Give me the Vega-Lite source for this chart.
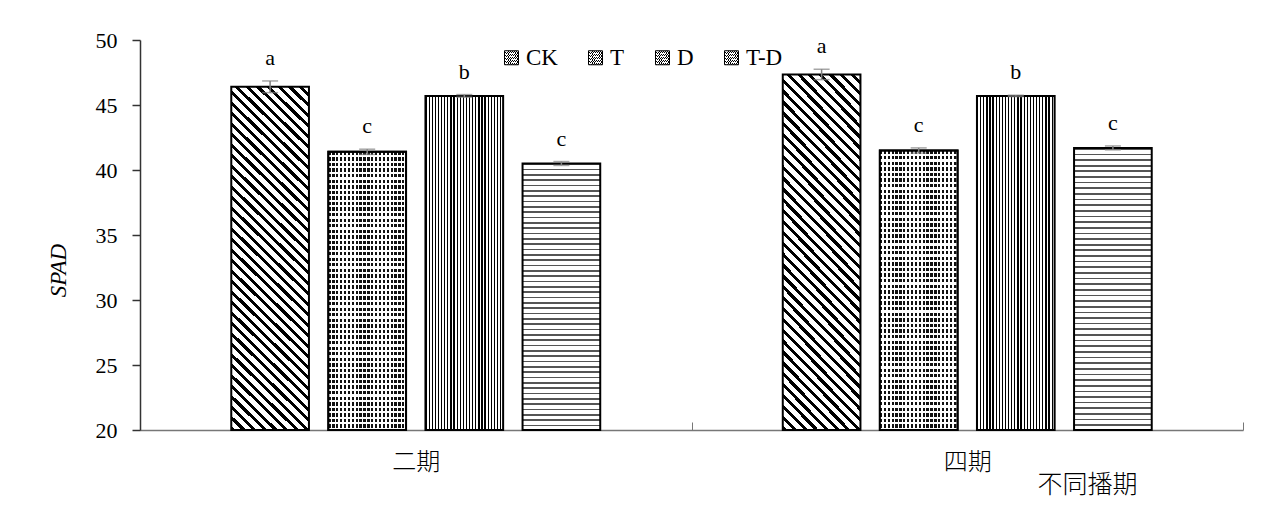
{
  "$schema": "https://vega.github.io/schema/vega-lite/v6.json",
  "autosize": "none",
  "width": 1103,
  "height": 390,
  "padding": {"left": 140, "top": 40, "right": 27, "bottom": 100},
  "background": "#ffffff",
  "config": {"view": {"stroke": null}},
  "data": {"values": [
    {"period": "二期", "trt": "CK", "mean": 46.4, "lo": 45.95, "hi": 46.85, "sig": "a"},
    {"period": "二期", "trt": "T", "mean": 41.4, "lo": 41.2, "hi": 41.6, "sig": "c"},
    {"period": "二期", "trt": "D", "mean": 45.7, "lo": 45.6, "hi": 45.8, "sig": "b"},
    {"period": "二期", "trt": "T-D", "mean": 40.5, "lo": 40.35, "hi": 40.65, "sig": "c"},
    {"period": "四期", "trt": "CK", "mean": 47.35, "lo": 46.95, "hi": 47.75, "sig": "a"},
    {"period": "四期", "trt": "T", "mean": 41.5, "lo": 41.3, "hi": 41.7, "sig": "c"},
    {"period": "四期", "trt": "D", "mean": 45.7, "lo": 45.65, "hi": 45.75, "sig": "b"},
    {"period": "四期", "trt": "T-D", "mean": 41.7, "lo": 41.55, "hi": 41.85, "sig": "c"}
  ]},
  "encoding": {
    "x": {"field": "period", "type": "nominal",
      "scale": {"domain": ["二期", "四期"], "paddingInner": 0, "paddingOuter": 0},
      "axis": {"labelFont": "Noto Sans CJK SC", "labelFontSize": 24, "labelFontWeight": 300, "labelColor": "#000", "labelAngle": 0,
        "tickSize": -8, "tickBand": "extent", "domainColor": "#777", "tickColor": "#777", "domainWidth": 1.5,
        "labelPadding": 28, "title": "不同播期", "titleFont": "Noto Sans CJK SC", "titleFontSize": 25,
        "titleFontWeight": 300, "titleColor": "#000", "titleX": 947, "titleY": 54, "titleBaseline": "middle"}},
    "xOffset": {"field": "trt", "type": "nominal",
      "scale": {"domain": ["CK", "T", "D", "T-D"], "paddingInner": 0.2, "paddingOuter": 0.94}}
  },
  "layer": [
    {
      "transform": [{"filter": "datum.trt == 'CK'"}],
      "mark": {"type": "bar", "strokeWidth": 2, "fill": {"gradient": "linear", "x1": 0, "y1": 1, "x2": 0.26, "y2": -0.165, "stops": [
              {"offset": 0, "color": "#000"}, {"offset": 0.01, "color": "#000"}, {"offset": 0.01, "color": "#fff"}, {"offset": 0.025, "color": "#fff"},
              {"offset": 0.025, "color": "#000"}, {"offset": 0.035, "color": "#000"}, {"offset": 0.035, "color": "#fff"}, {"offset": 0.05, "color": "#fff"},
              {"offset": 0.05, "color": "#000"}, {"offset": 0.06, "color": "#000"}, {"offset": 0.06, "color": "#fff"}, {"offset": 0.075, "color": "#fff"},
              {"offset": 0.075, "color": "#000"}, {"offset": 0.085, "color": "#000"}, {"offset": 0.085, "color": "#fff"}, {"offset": 0.1, "color": "#fff"},
              {"offset": 0.1, "color": "#000"}, {"offset": 0.11, "color": "#000"}, {"offset": 0.11, "color": "#fff"}, {"offset": 0.125, "color": "#fff"},
              {"offset": 0.125, "color": "#000"}, {"offset": 0.135, "color": "#000"}, {"offset": 0.135, "color": "#fff"}, {"offset": 0.15, "color": "#fff"},
              {"offset": 0.15, "color": "#000"}, {"offset": 0.16, "color": "#000"}, {"offset": 0.16, "color": "#fff"}, {"offset": 0.175, "color": "#fff"},
              {"offset": 0.175, "color": "#000"}, {"offset": 0.185, "color": "#000"}, {"offset": 0.185, "color": "#fff"}, {"offset": 0.2, "color": "#fff"},
              {"offset": 0.2, "color": "#000"}, {"offset": 0.21, "color": "#000"}, {"offset": 0.21, "color": "#fff"}, {"offset": 0.225, "color": "#fff"},
              {"offset": 0.225, "color": "#000"}, {"offset": 0.235, "color": "#000"}, {"offset": 0.235, "color": "#fff"}, {"offset": 0.25, "color": "#fff"},
              {"offset": 0.25, "color": "#000"}, {"offset": 0.26, "color": "#000"}, {"offset": 0.26, "color": "#fff"}, {"offset": 0.275, "color": "#fff"},
              {"offset": 0.275, "color": "#000"}, {"offset": 0.285, "color": "#000"}, {"offset": 0.285, "color": "#fff"}, {"offset": 0.3, "color": "#fff"},
              {"offset": 0.3, "color": "#000"}, {"offset": 0.31, "color": "#000"}, {"offset": 0.31, "color": "#fff"}, {"offset": 0.325, "color": "#fff"},
              {"offset": 0.325, "color": "#000"}, {"offset": 0.335, "color": "#000"}, {"offset": 0.335, "color": "#fff"}, {"offset": 0.35, "color": "#fff"},
              {"offset": 0.35, "color": "#000"}, {"offset": 0.36, "color": "#000"}, {"offset": 0.36, "color": "#fff"}, {"offset": 0.375, "color": "#fff"},
              {"offset": 0.375, "color": "#000"}, {"offset": 0.385, "color": "#000"}, {"offset": 0.385, "color": "#fff"}, {"offset": 0.4, "color": "#fff"},
              {"offset": 0.4, "color": "#000"}, {"offset": 0.41, "color": "#000"}, {"offset": 0.41, "color": "#fff"}, {"offset": 0.425, "color": "#fff"},
              {"offset": 0.425, "color": "#000"}, {"offset": 0.435, "color": "#000"}, {"offset": 0.435, "color": "#fff"}, {"offset": 0.45, "color": "#fff"},
              {"offset": 0.45, "color": "#000"}, {"offset": 0.46, "color": "#000"}, {"offset": 0.46, "color": "#fff"}, {"offset": 0.475, "color": "#fff"},
              {"offset": 0.475, "color": "#000"}, {"offset": 0.485, "color": "#000"}, {"offset": 0.485, "color": "#fff"}, {"offset": 0.5, "color": "#fff"},
              {"offset": 0.5, "color": "#000"}, {"offset": 0.51, "color": "#000"}, {"offset": 0.51, "color": "#fff"}, {"offset": 0.525, "color": "#fff"},
              {"offset": 0.525, "color": "#000"}, {"offset": 0.535, "color": "#000"}, {"offset": 0.535, "color": "#fff"}, {"offset": 0.55, "color": "#fff"},
              {"offset": 0.55, "color": "#000"}, {"offset": 0.56, "color": "#000"}, {"offset": 0.56, "color": "#fff"}, {"offset": 0.575, "color": "#fff"},
              {"offset": 0.575, "color": "#000"}, {"offset": 0.585, "color": "#000"}, {"offset": 0.585, "color": "#fff"}, {"offset": 0.6, "color": "#fff"},
              {"offset": 0.6, "color": "#000"}, {"offset": 0.61, "color": "#000"}, {"offset": 0.61, "color": "#fff"}, {"offset": 0.625, "color": "#fff"},
              {"offset": 0.625, "color": "#000"}, {"offset": 0.635, "color": "#000"}, {"offset": 0.635, "color": "#fff"}, {"offset": 0.65, "color": "#fff"},
              {"offset": 0.65, "color": "#000"}, {"offset": 0.66, "color": "#000"}, {"offset": 0.66, "color": "#fff"}, {"offset": 0.675, "color": "#fff"},
              {"offset": 0.675, "color": "#000"}, {"offset": 0.685, "color": "#000"}, {"offset": 0.685, "color": "#fff"}, {"offset": 0.7, "color": "#fff"},
              {"offset": 0.7, "color": "#000"}, {"offset": 0.71, "color": "#000"}, {"offset": 0.71, "color": "#fff"}, {"offset": 0.725, "color": "#fff"},
              {"offset": 0.725, "color": "#000"}, {"offset": 0.735, "color": "#000"}, {"offset": 0.735, "color": "#fff"}, {"offset": 0.75, "color": "#fff"},
              {"offset": 0.75, "color": "#000"}, {"offset": 0.76, "color": "#000"}, {"offset": 0.76, "color": "#fff"}, {"offset": 0.775, "color": "#fff"},
              {"offset": 0.775, "color": "#000"}, {"offset": 0.785, "color": "#000"}, {"offset": 0.785, "color": "#fff"}, {"offset": 0.8, "color": "#fff"},
              {"offset": 0.8, "color": "#000"}, {"offset": 0.81, "color": "#000"}, {"offset": 0.81, "color": "#fff"}, {"offset": 0.825, "color": "#fff"},
              {"offset": 0.825, "color": "#000"}, {"offset": 0.835, "color": "#000"}, {"offset": 0.835, "color": "#fff"}, {"offset": 0.85, "color": "#fff"},
              {"offset": 0.85, "color": "#000"}, {"offset": 0.86, "color": "#000"}, {"offset": 0.86, "color": "#fff"}, {"offset": 0.875, "color": "#fff"},
              {"offset": 0.875, "color": "#000"}, {"offset": 0.885, "color": "#000"}, {"offset": 0.885, "color": "#fff"}, {"offset": 0.9, "color": "#fff"},
              {"offset": 0.9, "color": "#000"}, {"offset": 0.91, "color": "#000"}, {"offset": 0.91, "color": "#fff"}, {"offset": 0.925, "color": "#fff"},
              {"offset": 0.925, "color": "#000"}, {"offset": 0.935, "color": "#000"}, {"offset": 0.935, "color": "#fff"}, {"offset": 0.95, "color": "#fff"},
              {"offset": 0.95, "color": "#000"}, {"offset": 0.96, "color": "#000"}, {"offset": 0.96, "color": "#fff"}, {"offset": 0.975, "color": "#fff"},
              {"offset": 0.975, "color": "#000"}, {"offset": 0.985, "color": "#000"}, {"offset": 0.985, "color": "#fff"}, {"offset": 1, "color": "#fff"}
            ]}},
      "encoding": {
        "y": {"field": "mean", "type": "quantitative",
          "scale": {"domain": [20, 50], "zero": false, "nice": false},
          "axis": {"values": [20, 25, 30, 35, 40, 45, 50], "grid": false, "tickSize": 8, "tickColor": "#333",
            "domainColor": "#333", "domainWidth": 1.5, "tickWidth": 1.5, "labelFont": "Liberation Serif",
            "labelFontSize": 22, "labelColor": "#000", "labelPadding": 15, "title": "SPAD",
            "titleFont": "Liberation Serif", "titleFontStyle": "italic", "titleFontWeight": "normal",
            "titleFontSize": 23, "titleColor": "#000", "titlePadding": 25, "titleY": 230}},
        "y2": {"datum": 20},
        "stroke": {"field": "trt", "type": "nominal",
          "scale": {"domain": ["CK", "T", "D", "T-D"], "range": ["#000", "#000", "#000", "#000"]},
          "legend": {"orient": "none", "legendX": 360, "legendY": 6, "direction": "horizontal", "columns": 4,
            "title": null, "symbolType": "square", "symbolSize": 196, "symbolStrokeWidth": 1,
            "labelFont": "Liberation Serif", "labelFontSize": 23, "labelColor": "#000", "labelOffset": 3, "columnPadding": 26,
            "encode": {"symbols": {"update": {"fill": {"signal": "datum.value == 'CK' ? '#2b2b2b' : datum.value == 'T' ? '#3c3c3c' : datum.value == 'D' ? '#4a4a4a' : '#444444'"}, "fillOpacity": {"value": 1}}}}}}
      }
    },
    {
      "transform": [{"filter": "datum.trt == 'T'"}],
      "mark": {"type": "bar", "stroke": "#000", "strokeWidth": 2, "fill": {"gradient": "linear", "x1": 0, "y1": 0, "x2": 1, "y2": 0, "stops": [
              {"offset": 0, "color": "#111"}, {"offset": 0.03, "color": "#111"}, {"offset": 0.03, "color": "#fff"}, {"offset": 0.05, "color": "#fff"},
              {"offset": 0.05, "color": "#111"}, {"offset": 0.08, "color": "#111"}, {"offset": 0.08, "color": "#fff"}, {"offset": 0.1, "color": "#fff"},
              {"offset": 0.1, "color": "#111"}, {"offset": 0.13, "color": "#111"}, {"offset": 0.13, "color": "#fff"}, {"offset": 0.15, "color": "#fff"},
              {"offset": 0.15, "color": "#111"}, {"offset": 0.18, "color": "#111"}, {"offset": 0.18, "color": "#fff"}, {"offset": 0.2, "color": "#fff"},
              {"offset": 0.2, "color": "#111"}, {"offset": 0.23, "color": "#111"}, {"offset": 0.23, "color": "#fff"}, {"offset": 0.25, "color": "#fff"},
              {"offset": 0.25, "color": "#111"}, {"offset": 0.28, "color": "#111"}, {"offset": 0.28, "color": "#fff"}, {"offset": 0.3, "color": "#fff"},
              {"offset": 0.3, "color": "#111"}, {"offset": 0.33, "color": "#111"}, {"offset": 0.33, "color": "#fff"}, {"offset": 0.35, "color": "#fff"},
              {"offset": 0.35, "color": "#111"}, {"offset": 0.38, "color": "#111"}, {"offset": 0.38, "color": "#fff"}, {"offset": 0.4, "color": "#fff"},
              {"offset": 0.4, "color": "#111"}, {"offset": 0.43, "color": "#111"}, {"offset": 0.43, "color": "#fff"}, {"offset": 0.45, "color": "#fff"},
              {"offset": 0.45, "color": "#111"}, {"offset": 0.48, "color": "#111"}, {"offset": 0.48, "color": "#fff"}, {"offset": 0.5, "color": "#fff"},
              {"offset": 0.5, "color": "#111"}, {"offset": 0.53, "color": "#111"}, {"offset": 0.53, "color": "#fff"}, {"offset": 0.55, "color": "#fff"},
              {"offset": 0.55, "color": "#111"}, {"offset": 0.58, "color": "#111"}, {"offset": 0.58, "color": "#fff"}, {"offset": 0.6, "color": "#fff"},
              {"offset": 0.6, "color": "#111"}, {"offset": 0.63, "color": "#111"}, {"offset": 0.63, "color": "#fff"}, {"offset": 0.65, "color": "#fff"},
              {"offset": 0.65, "color": "#111"}, {"offset": 0.68, "color": "#111"}, {"offset": 0.68, "color": "#fff"}, {"offset": 0.7, "color": "#fff"},
              {"offset": 0.7, "color": "#111"}, {"offset": 0.73, "color": "#111"}, {"offset": 0.73, "color": "#fff"}, {"offset": 0.75, "color": "#fff"},
              {"offset": 0.75, "color": "#111"}, {"offset": 0.78, "color": "#111"}, {"offset": 0.78, "color": "#fff"}, {"offset": 0.8, "color": "#fff"},
              {"offset": 0.8, "color": "#111"}, {"offset": 0.83, "color": "#111"}, {"offset": 0.83, "color": "#fff"}, {"offset": 0.85, "color": "#fff"},
              {"offset": 0.85, "color": "#111"}, {"offset": 0.88, "color": "#111"}, {"offset": 0.88, "color": "#fff"}, {"offset": 0.9, "color": "#fff"},
              {"offset": 0.9, "color": "#111"}, {"offset": 0.93, "color": "#111"}, {"offset": 0.93, "color": "#fff"}, {"offset": 0.95, "color": "#fff"},
              {"offset": 0.95, "color": "#111"}, {"offset": 0.98, "color": "#111"}, {"offset": 0.98, "color": "#fff"}, {"offset": 1, "color": "#fff"}
            ]}},
      "encoding": {"y": {"field": "mean", "type": "quantitative"}, "y2": {"datum": 20}}
    },
    {
      "transform": [{"filter": "datum.trt == 'T'"}],
      "mark": {"type": "bar", "stroke": "#000", "strokeWidth": 2, "fill": {"gradient": "linear", "x1": 0, "y1": 0, "x2": 0, "y2": 1, "stops": [
        {"offset": 0, "color": "rgba(255,255,255,0)"}, {"offset": 0.012, "color": "rgba(255,255,255,0)"}, {"offset": 0.012, "color": "#fff"}, {"offset": 0.02, "color": "#fff"},
        {"offset": 0.02, "color": "rgba(255,255,255,0)"}, {"offset": 0.032, "color": "rgba(255,255,255,0)"}, {"offset": 0.032, "color": "#fff"}, {"offset": 0.04, "color": "#fff"},
        {"offset": 0.04, "color": "rgba(255,255,255,0)"}, {"offset": 0.052, "color": "rgba(255,255,255,0)"}, {"offset": 0.052, "color": "#fff"}, {"offset": 0.06, "color": "#fff"},
        {"offset": 0.06, "color": "rgba(255,255,255,0)"}, {"offset": 0.072, "color": "rgba(255,255,255,0)"}, {"offset": 0.072, "color": "#fff"}, {"offset": 0.08, "color": "#fff"},
        {"offset": 0.08, "color": "rgba(255,255,255,0)"}, {"offset": 0.092, "color": "rgba(255,255,255,0)"}, {"offset": 0.092, "color": "#fff"}, {"offset": 0.1, "color": "#fff"},
        {"offset": 0.1, "color": "rgba(255,255,255,0)"}, {"offset": 0.112, "color": "rgba(255,255,255,0)"}, {"offset": 0.112, "color": "#fff"}, {"offset": 0.12, "color": "#fff"},
        {"offset": 0.12, "color": "rgba(255,255,255,0)"}, {"offset": 0.132, "color": "rgba(255,255,255,0)"}, {"offset": 0.132, "color": "#fff"}, {"offset": 0.14, "color": "#fff"},
        {"offset": 0.14, "color": "rgba(255,255,255,0)"}, {"offset": 0.152, "color": "rgba(255,255,255,0)"}, {"offset": 0.152, "color": "#fff"}, {"offset": 0.16, "color": "#fff"},
        {"offset": 0.16, "color": "rgba(255,255,255,0)"}, {"offset": 0.172, "color": "rgba(255,255,255,0)"}, {"offset": 0.172, "color": "#fff"}, {"offset": 0.18, "color": "#fff"},
        {"offset": 0.18, "color": "rgba(255,255,255,0)"}, {"offset": 0.192, "color": "rgba(255,255,255,0)"}, {"offset": 0.192, "color": "#fff"}, {"offset": 0.2, "color": "#fff"},
        {"offset": 0.2, "color": "rgba(255,255,255,0)"}, {"offset": 0.212, "color": "rgba(255,255,255,0)"}, {"offset": 0.212, "color": "#fff"}, {"offset": 0.22, "color": "#fff"},
        {"offset": 0.22, "color": "rgba(255,255,255,0)"}, {"offset": 0.232, "color": "rgba(255,255,255,0)"}, {"offset": 0.232, "color": "#fff"}, {"offset": 0.24, "color": "#fff"},
        {"offset": 0.24, "color": "rgba(255,255,255,0)"}, {"offset": 0.252, "color": "rgba(255,255,255,0)"}, {"offset": 0.252, "color": "#fff"}, {"offset": 0.26, "color": "#fff"},
        {"offset": 0.26, "color": "rgba(255,255,255,0)"}, {"offset": 0.272, "color": "rgba(255,255,255,0)"}, {"offset": 0.272, "color": "#fff"}, {"offset": 0.28, "color": "#fff"},
        {"offset": 0.28, "color": "rgba(255,255,255,0)"}, {"offset": 0.292, "color": "rgba(255,255,255,0)"}, {"offset": 0.292, "color": "#fff"}, {"offset": 0.3, "color": "#fff"},
        {"offset": 0.3, "color": "rgba(255,255,255,0)"}, {"offset": 0.312, "color": "rgba(255,255,255,0)"}, {"offset": 0.312, "color": "#fff"}, {"offset": 0.32, "color": "#fff"},
        {"offset": 0.32, "color": "rgba(255,255,255,0)"}, {"offset": 0.332, "color": "rgba(255,255,255,0)"}, {"offset": 0.332, "color": "#fff"}, {"offset": 0.34, "color": "#fff"},
        {"offset": 0.34, "color": "rgba(255,255,255,0)"}, {"offset": 0.352, "color": "rgba(255,255,255,0)"}, {"offset": 0.352, "color": "#fff"}, {"offset": 0.36, "color": "#fff"},
        {"offset": 0.36, "color": "rgba(255,255,255,0)"}, {"offset": 0.372, "color": "rgba(255,255,255,0)"}, {"offset": 0.372, "color": "#fff"}, {"offset": 0.38, "color": "#fff"},
        {"offset": 0.38, "color": "rgba(255,255,255,0)"}, {"offset": 0.392, "color": "rgba(255,255,255,0)"}, {"offset": 0.392, "color": "#fff"}, {"offset": 0.4, "color": "#fff"},
        {"offset": 0.4, "color": "rgba(255,255,255,0)"}, {"offset": 0.412, "color": "rgba(255,255,255,0)"}, {"offset": 0.412, "color": "#fff"}, {"offset": 0.42, "color": "#fff"},
        {"offset": 0.42, "color": "rgba(255,255,255,0)"}, {"offset": 0.432, "color": "rgba(255,255,255,0)"}, {"offset": 0.432, "color": "#fff"}, {"offset": 0.44, "color": "#fff"},
        {"offset": 0.44, "color": "rgba(255,255,255,0)"}, {"offset": 0.452, "color": "rgba(255,255,255,0)"}, {"offset": 0.452, "color": "#fff"}, {"offset": 0.46, "color": "#fff"},
        {"offset": 0.46, "color": "rgba(255,255,255,0)"}, {"offset": 0.472, "color": "rgba(255,255,255,0)"}, {"offset": 0.472, "color": "#fff"}, {"offset": 0.48, "color": "#fff"},
        {"offset": 0.48, "color": "rgba(255,255,255,0)"}, {"offset": 0.492, "color": "rgba(255,255,255,0)"}, {"offset": 0.492, "color": "#fff"}, {"offset": 0.5, "color": "#fff"},
        {"offset": 0.5, "color": "rgba(255,255,255,0)"}, {"offset": 0.512, "color": "rgba(255,255,255,0)"}, {"offset": 0.512, "color": "#fff"}, {"offset": 0.52, "color": "#fff"},
        {"offset": 0.52, "color": "rgba(255,255,255,0)"}, {"offset": 0.532, "color": "rgba(255,255,255,0)"}, {"offset": 0.532, "color": "#fff"}, {"offset": 0.54, "color": "#fff"},
        {"offset": 0.54, "color": "rgba(255,255,255,0)"}, {"offset": 0.552, "color": "rgba(255,255,255,0)"}, {"offset": 0.552, "color": "#fff"}, {"offset": 0.56, "color": "#fff"},
        {"offset": 0.56, "color": "rgba(255,255,255,0)"}, {"offset": 0.572, "color": "rgba(255,255,255,0)"}, {"offset": 0.572, "color": "#fff"}, {"offset": 0.58, "color": "#fff"},
        {"offset": 0.58, "color": "rgba(255,255,255,0)"}, {"offset": 0.592, "color": "rgba(255,255,255,0)"}, {"offset": 0.592, "color": "#fff"}, {"offset": 0.6, "color": "#fff"},
        {"offset": 0.6, "color": "rgba(255,255,255,0)"}, {"offset": 0.612, "color": "rgba(255,255,255,0)"}, {"offset": 0.612, "color": "#fff"}, {"offset": 0.62, "color": "#fff"},
        {"offset": 0.62, "color": "rgba(255,255,255,0)"}, {"offset": 0.632, "color": "rgba(255,255,255,0)"}, {"offset": 0.632, "color": "#fff"}, {"offset": 0.64, "color": "#fff"},
        {"offset": 0.64, "color": "rgba(255,255,255,0)"}, {"offset": 0.652, "color": "rgba(255,255,255,0)"}, {"offset": 0.652, "color": "#fff"}, {"offset": 0.66, "color": "#fff"},
        {"offset": 0.66, "color": "rgba(255,255,255,0)"}, {"offset": 0.672, "color": "rgba(255,255,255,0)"}, {"offset": 0.672, "color": "#fff"}, {"offset": 0.68, "color": "#fff"},
        {"offset": 0.68, "color": "rgba(255,255,255,0)"}, {"offset": 0.692, "color": "rgba(255,255,255,0)"}, {"offset": 0.692, "color": "#fff"}, {"offset": 0.7, "color": "#fff"},
        {"offset": 0.7, "color": "rgba(255,255,255,0)"}, {"offset": 0.712, "color": "rgba(255,255,255,0)"}, {"offset": 0.712, "color": "#fff"}, {"offset": 0.72, "color": "#fff"},
        {"offset": 0.72, "color": "rgba(255,255,255,0)"}, {"offset": 0.732, "color": "rgba(255,255,255,0)"}, {"offset": 0.732, "color": "#fff"}, {"offset": 0.74, "color": "#fff"},
        {"offset": 0.74, "color": "rgba(255,255,255,0)"}, {"offset": 0.752, "color": "rgba(255,255,255,0)"}, {"offset": 0.752, "color": "#fff"}, {"offset": 0.76, "color": "#fff"},
        {"offset": 0.76, "color": "rgba(255,255,255,0)"}, {"offset": 0.772, "color": "rgba(255,255,255,0)"}, {"offset": 0.772, "color": "#fff"}, {"offset": 0.78, "color": "#fff"},
        {"offset": 0.78, "color": "rgba(255,255,255,0)"}, {"offset": 0.792, "color": "rgba(255,255,255,0)"}, {"offset": 0.792, "color": "#fff"}, {"offset": 0.8, "color": "#fff"},
        {"offset": 0.8, "color": "rgba(255,255,255,0)"}, {"offset": 0.812, "color": "rgba(255,255,255,0)"}, {"offset": 0.812, "color": "#fff"}, {"offset": 0.82, "color": "#fff"},
        {"offset": 0.82, "color": "rgba(255,255,255,0)"}, {"offset": 0.832, "color": "rgba(255,255,255,0)"}, {"offset": 0.832, "color": "#fff"}, {"offset": 0.84, "color": "#fff"},
        {"offset": 0.84, "color": "rgba(255,255,255,0)"}, {"offset": 0.852, "color": "rgba(255,255,255,0)"}, {"offset": 0.852, "color": "#fff"}, {"offset": 0.86, "color": "#fff"},
        {"offset": 0.86, "color": "rgba(255,255,255,0)"}, {"offset": 0.872, "color": "rgba(255,255,255,0)"}, {"offset": 0.872, "color": "#fff"}, {"offset": 0.88, "color": "#fff"},
        {"offset": 0.88, "color": "rgba(255,255,255,0)"}, {"offset": 0.892, "color": "rgba(255,255,255,0)"}, {"offset": 0.892, "color": "#fff"}, {"offset": 0.9, "color": "#fff"},
        {"offset": 0.9, "color": "rgba(255,255,255,0)"}, {"offset": 0.912, "color": "rgba(255,255,255,0)"}, {"offset": 0.912, "color": "#fff"}, {"offset": 0.92, "color": "#fff"},
        {"offset": 0.92, "color": "rgba(255,255,255,0)"}, {"offset": 0.932, "color": "rgba(255,255,255,0)"}, {"offset": 0.932, "color": "#fff"}, {"offset": 0.94, "color": "#fff"},
        {"offset": 0.94, "color": "rgba(255,255,255,0)"}, {"offset": 0.952, "color": "rgba(255,255,255,0)"}, {"offset": 0.952, "color": "#fff"}, {"offset": 0.96, "color": "#fff"},
        {"offset": 0.96, "color": "rgba(255,255,255,0)"}, {"offset": 0.972, "color": "rgba(255,255,255,0)"}, {"offset": 0.972, "color": "#fff"}, {"offset": 0.98, "color": "#fff"},
        {"offset": 0.98, "color": "rgba(255,255,255,0)"}, {"offset": 0.992, "color": "rgba(255,255,255,0)"}, {"offset": 0.992, "color": "#fff"}, {"offset": 1, "color": "#fff"}
      ]}},
      "encoding": {"y": {"field": "mean", "type": "quantitative"}, "y2": {"datum": 20}}
    },
    {
      "transform": [{"filter": "datum.trt == 'D'"}],
      "mark": {"type": "bar", "stroke": "#000", "strokeWidth": 2, "fill": {"gradient": "linear", "x1": 0, "y1": 0, "x2": 1, "y2": 0, "stops": [
              {"offset": 0, "color": "#000"}, {"offset": 0.016, "color": "#000"}, {"offset": 0.016, "color": "#fff"}, {"offset": 0.04, "color": "#fff"},
              {"offset": 0.04, "color": "#000"}, {"offset": 0.056, "color": "#000"}, {"offset": 0.056, "color": "#fff"}, {"offset": 0.08, "color": "#fff"},
              {"offset": 0.08, "color": "#000"}, {"offset": 0.096, "color": "#000"}, {"offset": 0.096, "color": "#fff"}, {"offset": 0.12, "color": "#fff"},
              {"offset": 0.12, "color": "#000"}, {"offset": 0.136, "color": "#000"}, {"offset": 0.136, "color": "#fff"}, {"offset": 0.16, "color": "#fff"},
              {"offset": 0.16, "color": "#000"}, {"offset": 0.176, "color": "#000"}, {"offset": 0.176, "color": "#fff"}, {"offset": 0.2, "color": "#fff"},
              {"offset": 0.2, "color": "#000"}, {"offset": 0.216, "color": "#000"}, {"offset": 0.216, "color": "#fff"}, {"offset": 0.24, "color": "#fff"},
              {"offset": 0.24, "color": "#000"}, {"offset": 0.256, "color": "#000"}, {"offset": 0.256, "color": "#fff"}, {"offset": 0.28, "color": "#fff"},
              {"offset": 0.28, "color": "#000"}, {"offset": 0.296, "color": "#000"}, {"offset": 0.296, "color": "#fff"}, {"offset": 0.32, "color": "#fff"},
              {"offset": 0.32, "color": "#000"}, {"offset": 0.336, "color": "#000"}, {"offset": 0.336, "color": "#fff"}, {"offset": 0.36, "color": "#fff"},
              {"offset": 0.36, "color": "#000"}, {"offset": 0.376, "color": "#000"}, {"offset": 0.376, "color": "#fff"}, {"offset": 0.4, "color": "#fff"},
              {"offset": 0.4, "color": "#000"}, {"offset": 0.416, "color": "#000"}, {"offset": 0.416, "color": "#fff"}, {"offset": 0.44, "color": "#fff"},
              {"offset": 0.44, "color": "#000"}, {"offset": 0.456, "color": "#000"}, {"offset": 0.456, "color": "#fff"}, {"offset": 0.48, "color": "#fff"},
              {"offset": 0.48, "color": "#000"}, {"offset": 0.496, "color": "#000"}, {"offset": 0.496, "color": "#fff"}, {"offset": 0.52, "color": "#fff"},
              {"offset": 0.52, "color": "#000"}, {"offset": 0.536, "color": "#000"}, {"offset": 0.536, "color": "#fff"}, {"offset": 0.56, "color": "#fff"},
              {"offset": 0.56, "color": "#000"}, {"offset": 0.576, "color": "#000"}, {"offset": 0.576, "color": "#fff"}, {"offset": 0.6, "color": "#fff"},
              {"offset": 0.6, "color": "#000"}, {"offset": 0.616, "color": "#000"}, {"offset": 0.616, "color": "#fff"}, {"offset": 0.64, "color": "#fff"},
              {"offset": 0.64, "color": "#000"}, {"offset": 0.656, "color": "#000"}, {"offset": 0.656, "color": "#fff"}, {"offset": 0.68, "color": "#fff"},
              {"offset": 0.68, "color": "#000"}, {"offset": 0.696, "color": "#000"}, {"offset": 0.696, "color": "#fff"}, {"offset": 0.72, "color": "#fff"},
              {"offset": 0.72, "color": "#000"}, {"offset": 0.736, "color": "#000"}, {"offset": 0.736, "color": "#fff"}, {"offset": 0.76, "color": "#fff"},
              {"offset": 0.76, "color": "#000"}, {"offset": 0.776, "color": "#000"}, {"offset": 0.776, "color": "#fff"}, {"offset": 0.8, "color": "#fff"},
              {"offset": 0.8, "color": "#000"}, {"offset": 0.816, "color": "#000"}, {"offset": 0.816, "color": "#fff"}, {"offset": 0.84, "color": "#fff"},
              {"offset": 0.84, "color": "#000"}, {"offset": 0.856, "color": "#000"}, {"offset": 0.856, "color": "#fff"}, {"offset": 0.88, "color": "#fff"},
              {"offset": 0.88, "color": "#000"}, {"offset": 0.896, "color": "#000"}, {"offset": 0.896, "color": "#fff"}, {"offset": 0.92, "color": "#fff"},
              {"offset": 0.92, "color": "#000"}, {"offset": 0.936, "color": "#000"}, {"offset": 0.936, "color": "#fff"}, {"offset": 0.96, "color": "#fff"},
              {"offset": 0.96, "color": "#000"}, {"offset": 0.976, "color": "#000"}, {"offset": 0.976, "color": "#fff"}, {"offset": 1, "color": "#fff"}
            ]}},
      "encoding": {"y": {"field": "mean", "type": "quantitative"}, "y2": {"datum": 20}}
    },
    {
      "transform": [{"filter": "datum.trt == 'T-D'"}],
      "mark": {"type": "bar", "stroke": "#000", "strokeWidth": 2, "fill": {"gradient": "linear", "x1": 0, "y1": 0, "x2": 0, "y2": 1, "stops": [
              {"offset": 0, "color": "#555"}, {"offset": 0.006, "color": "#555"}, {"offset": 0.006, "color": "#fff"}, {"offset": 0.02, "color": "#fff"},
              {"offset": 0.02, "color": "#555"}, {"offset": 0.026, "color": "#555"}, {"offset": 0.026, "color": "#fff"}, {"offset": 0.04, "color": "#fff"},
              {"offset": 0.04, "color": "#555"}, {"offset": 0.046, "color": "#555"}, {"offset": 0.046, "color": "#fff"}, {"offset": 0.06, "color": "#fff"},
              {"offset": 0.06, "color": "#555"}, {"offset": 0.066, "color": "#555"}, {"offset": 0.066, "color": "#fff"}, {"offset": 0.08, "color": "#fff"},
              {"offset": 0.08, "color": "#555"}, {"offset": 0.086, "color": "#555"}, {"offset": 0.086, "color": "#fff"}, {"offset": 0.1, "color": "#fff"},
              {"offset": 0.1, "color": "#555"}, {"offset": 0.106, "color": "#555"}, {"offset": 0.106, "color": "#fff"}, {"offset": 0.12, "color": "#fff"},
              {"offset": 0.12, "color": "#555"}, {"offset": 0.126, "color": "#555"}, {"offset": 0.126, "color": "#fff"}, {"offset": 0.14, "color": "#fff"},
              {"offset": 0.14, "color": "#555"}, {"offset": 0.146, "color": "#555"}, {"offset": 0.146, "color": "#fff"}, {"offset": 0.16, "color": "#fff"},
              {"offset": 0.16, "color": "#555"}, {"offset": 0.166, "color": "#555"}, {"offset": 0.166, "color": "#fff"}, {"offset": 0.18, "color": "#fff"},
              {"offset": 0.18, "color": "#555"}, {"offset": 0.186, "color": "#555"}, {"offset": 0.186, "color": "#fff"}, {"offset": 0.2, "color": "#fff"},
              {"offset": 0.2, "color": "#555"}, {"offset": 0.206, "color": "#555"}, {"offset": 0.206, "color": "#fff"}, {"offset": 0.22, "color": "#fff"},
              {"offset": 0.22, "color": "#555"}, {"offset": 0.226, "color": "#555"}, {"offset": 0.226, "color": "#fff"}, {"offset": 0.24, "color": "#fff"},
              {"offset": 0.24, "color": "#555"}, {"offset": 0.246, "color": "#555"}, {"offset": 0.246, "color": "#fff"}, {"offset": 0.26, "color": "#fff"},
              {"offset": 0.26, "color": "#555"}, {"offset": 0.266, "color": "#555"}, {"offset": 0.266, "color": "#fff"}, {"offset": 0.28, "color": "#fff"},
              {"offset": 0.28, "color": "#555"}, {"offset": 0.286, "color": "#555"}, {"offset": 0.286, "color": "#fff"}, {"offset": 0.3, "color": "#fff"},
              {"offset": 0.3, "color": "#555"}, {"offset": 0.306, "color": "#555"}, {"offset": 0.306, "color": "#fff"}, {"offset": 0.32, "color": "#fff"},
              {"offset": 0.32, "color": "#555"}, {"offset": 0.326, "color": "#555"}, {"offset": 0.326, "color": "#fff"}, {"offset": 0.34, "color": "#fff"},
              {"offset": 0.34, "color": "#555"}, {"offset": 0.346, "color": "#555"}, {"offset": 0.346, "color": "#fff"}, {"offset": 0.36, "color": "#fff"},
              {"offset": 0.36, "color": "#555"}, {"offset": 0.366, "color": "#555"}, {"offset": 0.366, "color": "#fff"}, {"offset": 0.38, "color": "#fff"},
              {"offset": 0.38, "color": "#555"}, {"offset": 0.386, "color": "#555"}, {"offset": 0.386, "color": "#fff"}, {"offset": 0.4, "color": "#fff"},
              {"offset": 0.4, "color": "#555"}, {"offset": 0.406, "color": "#555"}, {"offset": 0.406, "color": "#fff"}, {"offset": 0.42, "color": "#fff"},
              {"offset": 0.42, "color": "#555"}, {"offset": 0.426, "color": "#555"}, {"offset": 0.426, "color": "#fff"}, {"offset": 0.44, "color": "#fff"},
              {"offset": 0.44, "color": "#555"}, {"offset": 0.446, "color": "#555"}, {"offset": 0.446, "color": "#fff"}, {"offset": 0.46, "color": "#fff"},
              {"offset": 0.46, "color": "#555"}, {"offset": 0.466, "color": "#555"}, {"offset": 0.466, "color": "#fff"}, {"offset": 0.48, "color": "#fff"},
              {"offset": 0.48, "color": "#555"}, {"offset": 0.486, "color": "#555"}, {"offset": 0.486, "color": "#fff"}, {"offset": 0.5, "color": "#fff"},
              {"offset": 0.5, "color": "#555"}, {"offset": 0.506, "color": "#555"}, {"offset": 0.506, "color": "#fff"}, {"offset": 0.52, "color": "#fff"},
              {"offset": 0.52, "color": "#555"}, {"offset": 0.526, "color": "#555"}, {"offset": 0.526, "color": "#fff"}, {"offset": 0.54, "color": "#fff"},
              {"offset": 0.54, "color": "#555"}, {"offset": 0.546, "color": "#555"}, {"offset": 0.546, "color": "#fff"}, {"offset": 0.56, "color": "#fff"},
              {"offset": 0.56, "color": "#555"}, {"offset": 0.566, "color": "#555"}, {"offset": 0.566, "color": "#fff"}, {"offset": 0.58, "color": "#fff"},
              {"offset": 0.58, "color": "#555"}, {"offset": 0.586, "color": "#555"}, {"offset": 0.586, "color": "#fff"}, {"offset": 0.6, "color": "#fff"},
              {"offset": 0.6, "color": "#555"}, {"offset": 0.606, "color": "#555"}, {"offset": 0.606, "color": "#fff"}, {"offset": 0.62, "color": "#fff"},
              {"offset": 0.62, "color": "#555"}, {"offset": 0.626, "color": "#555"}, {"offset": 0.626, "color": "#fff"}, {"offset": 0.64, "color": "#fff"},
              {"offset": 0.64, "color": "#555"}, {"offset": 0.646, "color": "#555"}, {"offset": 0.646, "color": "#fff"}, {"offset": 0.66, "color": "#fff"},
              {"offset": 0.66, "color": "#555"}, {"offset": 0.666, "color": "#555"}, {"offset": 0.666, "color": "#fff"}, {"offset": 0.68, "color": "#fff"},
              {"offset": 0.68, "color": "#555"}, {"offset": 0.686, "color": "#555"}, {"offset": 0.686, "color": "#fff"}, {"offset": 0.7, "color": "#fff"},
              {"offset": 0.7, "color": "#555"}, {"offset": 0.706, "color": "#555"}, {"offset": 0.706, "color": "#fff"}, {"offset": 0.72, "color": "#fff"},
              {"offset": 0.72, "color": "#555"}, {"offset": 0.726, "color": "#555"}, {"offset": 0.726, "color": "#fff"}, {"offset": 0.74, "color": "#fff"},
              {"offset": 0.74, "color": "#555"}, {"offset": 0.746, "color": "#555"}, {"offset": 0.746, "color": "#fff"}, {"offset": 0.76, "color": "#fff"},
              {"offset": 0.76, "color": "#555"}, {"offset": 0.766, "color": "#555"}, {"offset": 0.766, "color": "#fff"}, {"offset": 0.78, "color": "#fff"},
              {"offset": 0.78, "color": "#555"}, {"offset": 0.786, "color": "#555"}, {"offset": 0.786, "color": "#fff"}, {"offset": 0.8, "color": "#fff"},
              {"offset": 0.8, "color": "#555"}, {"offset": 0.806, "color": "#555"}, {"offset": 0.806, "color": "#fff"}, {"offset": 0.82, "color": "#fff"},
              {"offset": 0.82, "color": "#555"}, {"offset": 0.826, "color": "#555"}, {"offset": 0.826, "color": "#fff"}, {"offset": 0.84, "color": "#fff"},
              {"offset": 0.84, "color": "#555"}, {"offset": 0.846, "color": "#555"}, {"offset": 0.846, "color": "#fff"}, {"offset": 0.86, "color": "#fff"},
              {"offset": 0.86, "color": "#555"}, {"offset": 0.866, "color": "#555"}, {"offset": 0.866, "color": "#fff"}, {"offset": 0.88, "color": "#fff"},
              {"offset": 0.88, "color": "#555"}, {"offset": 0.886, "color": "#555"}, {"offset": 0.886, "color": "#fff"}, {"offset": 0.9, "color": "#fff"},
              {"offset": 0.9, "color": "#555"}, {"offset": 0.906, "color": "#555"}, {"offset": 0.906, "color": "#fff"}, {"offset": 0.92, "color": "#fff"},
              {"offset": 0.92, "color": "#555"}, {"offset": 0.926, "color": "#555"}, {"offset": 0.926, "color": "#fff"}, {"offset": 0.94, "color": "#fff"},
              {"offset": 0.94, "color": "#555"}, {"offset": 0.946, "color": "#555"}, {"offset": 0.946, "color": "#fff"}, {"offset": 0.96, "color": "#fff"},
              {"offset": 0.96, "color": "#555"}, {"offset": 0.966, "color": "#555"}, {"offset": 0.966, "color": "#fff"}, {"offset": 0.98, "color": "#fff"},
              {"offset": 0.98, "color": "#555"}, {"offset": 0.986, "color": "#555"}, {"offset": 0.986, "color": "#fff"}, {"offset": 1, "color": "#fff"}
            ]}},
      "encoding": {"y": {"field": "mean", "type": "quantitative"}, "y2": {"datum": 20}}
    },
    {
      "mark": {"type": "rule", "color": "#808080", "strokeWidth": 1.5},
      "encoding": {"y": {"field": "lo", "type": "quantitative"}, "y2": {"field": "hi"}}
    },
    {
      "mark": {"type": "tick", "color": "#808080", "size": 16, "thickness": 1.5},
      "encoding": {"y": {"field": "hi", "type": "quantitative"}}
    },
    {
      "mark": {"type": "tick", "color": "#808080", "size": 16, "thickness": 1.5},
      "encoding": {"y": {"field": "lo", "type": "quantitative"}}
    },
    {
      "mark": {"type": "text", "font": "Liberation Serif", "fontSize": 22, "color": "#000", "baseline": "alphabetic", "dy": -16},
      "encoding": {"y": {"field": "hi", "type": "quantitative"}, "text": {"field": "sig"}}
    }
  ]
}
